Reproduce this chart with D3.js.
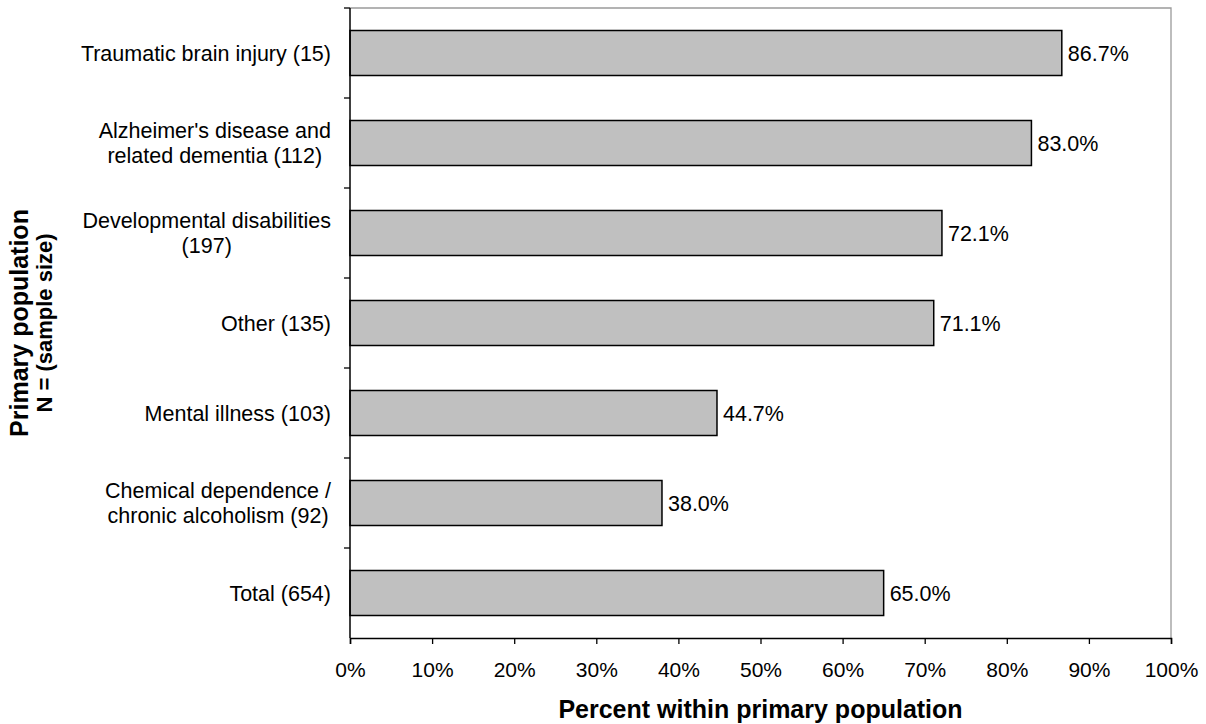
<!DOCTYPE html>
<html>
<head>
<meta charset="utf-8">
<script src="https://cdn.jsdelivr.net/npm/d3@7"></script>
<style>
  html, body { margin: 0; padding: 0; background: #fff; }
  svg { display: block; font-family: "Liberation Sans", Arial, sans-serif; }
</style>
</head>
<body>
<svg id="chart" width="1206" height="724"></svg>
<script>
// Category labels (lines of each label), sample sizes and percentages
const categoryLines = [
  ["Traumatic brain injury (15)"],
  ["Alzheimer's disease and", "related dementia (112)"],
  ["Developmental disabilities", "(197)"],
  ["Other (135)"],
  ["Mental illness (103)"],
  ["Chemical dependence /", "chronic alcoholism (92)"],
  ["Total (654)"]
];
const sampleSizes = [15, 112, 197, 135, 103, 92, 654];
const percentValues = [86.7, 83.0, 72.1, 71.1, 44.7, 38.0, 65.0];
const xTickValues = [0, 10, 20, 30, 40, 50, 60, 70, 80, 90, 100];

const svg = d3.select("#chart");
const plot = { left: 350, right: 1171, top: 8, bottom: 638 };

const keys = categoryLines.map((d, i) => "c" + i);

const x = d3.scaleLinear().domain([0, 100]).range([plot.left, plot.right]);
const y = d3.scaleBand().domain(keys).range([plot.top, plot.bottom])
  .paddingInner(0.5).paddingOuter(0.25);

// plot-area border (top and right)
svg.append("path")
  .attr("d", `M${plot.left},${plot.top}H${plot.right}V${plot.bottom}`)
  .attr("fill", "none").attr("stroke", "#9a9a9a").attr("stroke-width", 1.3);

// bars
svg.append("g").selectAll("rect")
  .data(percentValues)
  .join("rect")
  .attr("x", x(0))
  .attr("y", (d, i) => y(keys[i]))
  .attr("width", d => x(d) - x(0))
  .attr("height", y.bandwidth())
  .attr("fill", "#c0c0c0")
  .attr("stroke", "#000")
  .attr("stroke-width", 1.5);

// value labels
svg.append("g").selectAll("text")
  .data(percentValues)
  .join("text")
  .attr("x", d => x(d) + 6)
  .attr("y", (d, i) => y(keys[i]) + y.bandwidth() / 2)
  .attr("dy", "0.36em")
  .attr("font-size", 21.5)
  .attr("fill", "#000")
  .text(d => d.toFixed(1) + "%");

// x axis
const xAxis = d3.axisBottom(x)
  .tickValues(xTickValues)
  .tickFormat(d => d + "%")
  .tickSize(6)
  .tickPadding(18);
const gx = svg.append("g")
  .attr("transform", `translate(0,${plot.bottom})`)
  .call(xAxis);
gx.select(".domain").attr("stroke", "#000").attr("stroke-width", 1.5);
gx.selectAll(".tick line").attr("stroke", "#000").attr("stroke-width", 1.3);
gx.selectAll(".tick text")
  .attr("font-size", 21)
  .attr("font-family", "Liberation Sans, Arial, sans-serif")
  .attr("fill", "#000");

// y axis: line with tick marks on category boundaries
const boundaries = d3.range(keys.length + 1).map(i => plot.top + i * y.step());
const gy = svg.append("g");
gy.append("line")
  .attr("x1", plot.left).attr("x2", plot.left)
  .attr("y1", plot.top).attr("y2", plot.bottom)
  .attr("stroke", "#000").attr("stroke-width", 1.5);
gy.selectAll("line.tk")
  .data(boundaries.slice(0, -1))
  .join("line")
  .attr("class", "tk")
  .attr("x1", plot.left - 6).attr("x2", plot.left)
  .attr("y1", d => d).attr("y2", d => d)
  .attr("stroke", "#000").attr("stroke-width", 1.3);

// category labels: block right-aligned, lines centred within the block
const labelRight = 331;
const lineHeight = 25;
const catG = svg.append("g").attr("font-size", 21.5).attr("fill", "#000");
categoryLines.forEach((lines, i) => {
  const cy = y(keys[i]) + y.bandwidth() / 2;
  const t = catG.append("text").attr("text-anchor", "middle");
  const spans = lines.map((ln, j) =>
    t.append("tspan")
      .attr("y", cy + (j - (lines.length - 1) / 2) * lineHeight)
      .attr("dy", "0.36em")
      .text(ln));
  const maxW = d3.max(spans, s => s.node().getComputedTextLength());
  spans.forEach(s => s.attr("x", labelRight - maxW / 2));
});

// axis titles
svg.append("text")
  .attr("x", (plot.left + plot.right) / 2)
  .attr("y", 718)
  .attr("text-anchor", "middle")
  .attr("font-size", 25)
  .attr("font-weight", "bold")
  .attr("fill", "#000")
  .text("Percent within primary population");

const yTitleCy = (plot.top + plot.bottom) / 2;
const yt = svg.append("text")
  .attr("transform", `translate(0,${yTitleCy}) rotate(-90)`)
  .attr("text-anchor", "middle")
  .attr("font-weight", "bold")
  .attr("fill", "#000");
yt.append("tspan").attr("x", 0).attr("y", 28).attr("font-size", 25).text("Primary population");
yt.append("tspan").attr("x", 0).attr("y", 52).attr("font-size", 22).text("N = (sample size)");
</script>
</body>
</html>
